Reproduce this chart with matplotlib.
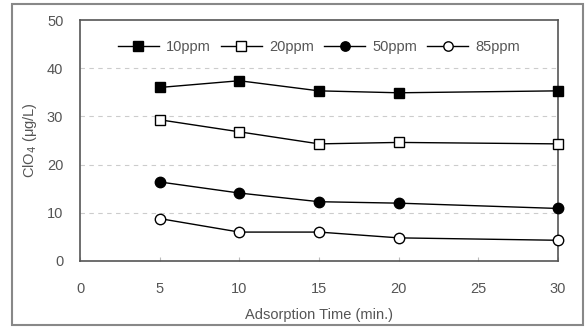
import numpy as np
import matplotlib.pyplot as plt
from matplotlib.patches import Rectangle

# adsorption time (min) and residual ClO4 for each initial concentration
times = [5, 10, 15, 20, 30]
conc_10ppm = [36.0, 37.4, 35.3, 34.9, 35.3]
conc_20ppm = [29.3, 26.8, 24.3, 24.6, 24.3]
conc_50ppm = [16.4, 14.1, 12.3, 12.0, 10.9]
conc_85ppm = [8.8, 6.0, 6.0, 4.8, 4.3]

series = [
    ('10ppm', conc_10ppm, 's', 'black'),
    ('20ppm', conc_20ppm, 's', 'white'),
    ('50ppm', conc_50ppm, 'o', 'black'),
    ('85ppm', conc_85ppm, 'o', 'white'),
]

plt.rcParams['font.family'] = ['Liberation Sans', 'DejaVu Sans']
text_color = '#555555'

fig = plt.figure(figsize=(5.85, 3.29), dpi=100)
ax = fig.add_axes([80 / 585, 1 - 261 / 329, 478 / 585, 241 / 329])

# outer frame round the whole figure
fig.patches.append(Rectangle((12 / 585, 4 / 329), 571 / 585, 321 / 329,
                             transform=fig.transFigure, fill=False,
                             edgecolor='#888888', linewidth=1.5))

for label, vals, marker, face in series:
    ax.plot(times, vals, color='black', linewidth=1.0, marker=marker,
            markersize=7.5, markerfacecolor=face,
            markeredgecolor='black', markeredgewidth=1.0, label=label,
            clip_on=False, zorder=3)

ax.set_xlim(0, 30)
ax.set_ylim(0, 50)
ax.set_xticks(np.arange(0, 31, 5))
ax.set_yticks(np.arange(0, 51, 10))
ax.tick_params(axis='x', direction='in', length=3, color='#bbbbbb',
               labelsize=10.5, labelcolor=text_color, pad=15)
ax.tick_params(axis='y', length=0, labelsize=10.5, labelcolor=text_color, pad=12)

for y in [10, 20, 30, 40]:
    ax.axhline(y, color='#cccccc', linestyle=(0, (4, 4)), linewidth=0.8, zorder=1)

for side in ['left', 'right', 'top', 'bottom']:
    ax.spines[side].set_color('#555555')
    ax.spines[side].set_linewidth(1.2)

ax.set_xlabel('Adsorption Time (min.)', fontsize=10.5, color=text_color, labelpad=9)
ax.set_ylabel('ClO$_4$ (μg/L)', fontsize=10.5, color=text_color, labelpad=6)

ax.legend(loc='upper center', bbox_to_anchor=(0.5, 0.97), ncol=4, frameon=False,
          fontsize=10.5, labelcolor=text_color, handlelength=2.8, handletextpad=0.5,
          columnspacing=0.7, markerscale=0.9)

fig.savefig('out.png', dpi=100)
